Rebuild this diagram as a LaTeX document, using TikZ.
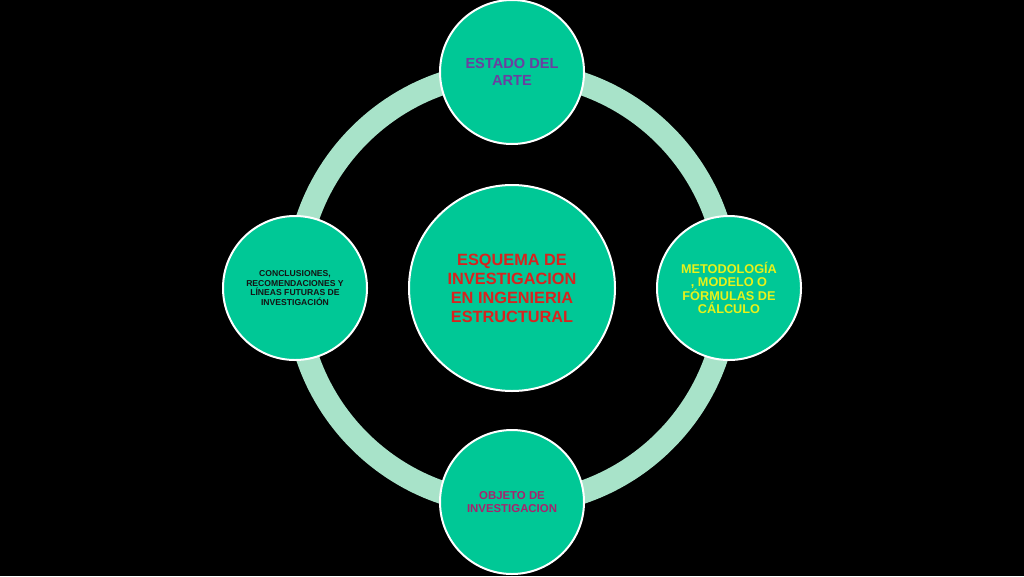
\documentclass[tikz,border=0pt]{standalone}
\usepackage{fontspec}
\setmainfont{Liberation Sans}
\definecolor{bg}{HTML}{000000}
\definecolor{teal}{HTML}{00C896}
\definecolor{ringc}{HTML}{A8E3C9}
\definecolor{purp}{HTML}{6B3FA0}
\definecolor{redt}{HTML}{D8231E}
\definecolor{yelt}{HTML}{E8F21A}
\definecolor{magt}{HTML}{A8226E}
\definecolor{darkt}{HTML}{141414}
\tikzset{
  bubble/.style={circle, fill=teal, draw=white, line width=2pt, inner sep=0pt, align=center},
  ringline/.style={draw=ringc, line width=23pt},
}
\begin{document}
\begin{tikzpicture}[x=1pt,y=-1pt]
\useasboundingbox (0,0) rectangle (1024,576);
\fill[bg] (0,0) rectangle (1024,576);
\coordinate (c) at (512,288);
\draw[ringline] (c) circle (216);
\node[bubble, minimum size=206pt, text=redt, font=\fontsize{16.3}{19}\selectfont\bfseries] (center) at (512,288) {ESQUEMA DE\\INVESTIGACION\\EN INGENIERIA\\ESTRUCTURAL};
\node[bubble, minimum size=144pt, text=purp, font=\fontsize{14.6}{16.5}\selectfont\bfseries] (top) at (512,72) {ESTADO DEL\\ARTE};
\node[bubble, minimum size=144pt, text=yelt, font=\fontsize{12.7}{13.5}\selectfont\bfseries] (right) at (729,288) {METODOLOGÍA\\, MODELO O\\FÓRMULAS DE\\CÁLCULO};
\node[bubble, minimum size=144pt, text=magt, font=\fontsize{11.4}{12.7}\selectfont\bfseries] (bottom) at (512,502) {OBJETO DE\\INVESTIGACION};
\node[bubble, minimum size=144pt, text=darkt, font=\fontsize{8.6}{9.8}\selectfont\bfseries] (left) at (295,288) {CONCLUSIONES,\\RECOMENDACIONES Y\\LÍNEAS FUTURAS DE\\INVESTIGACIÓN};
\end{tikzpicture}
\end{document}
